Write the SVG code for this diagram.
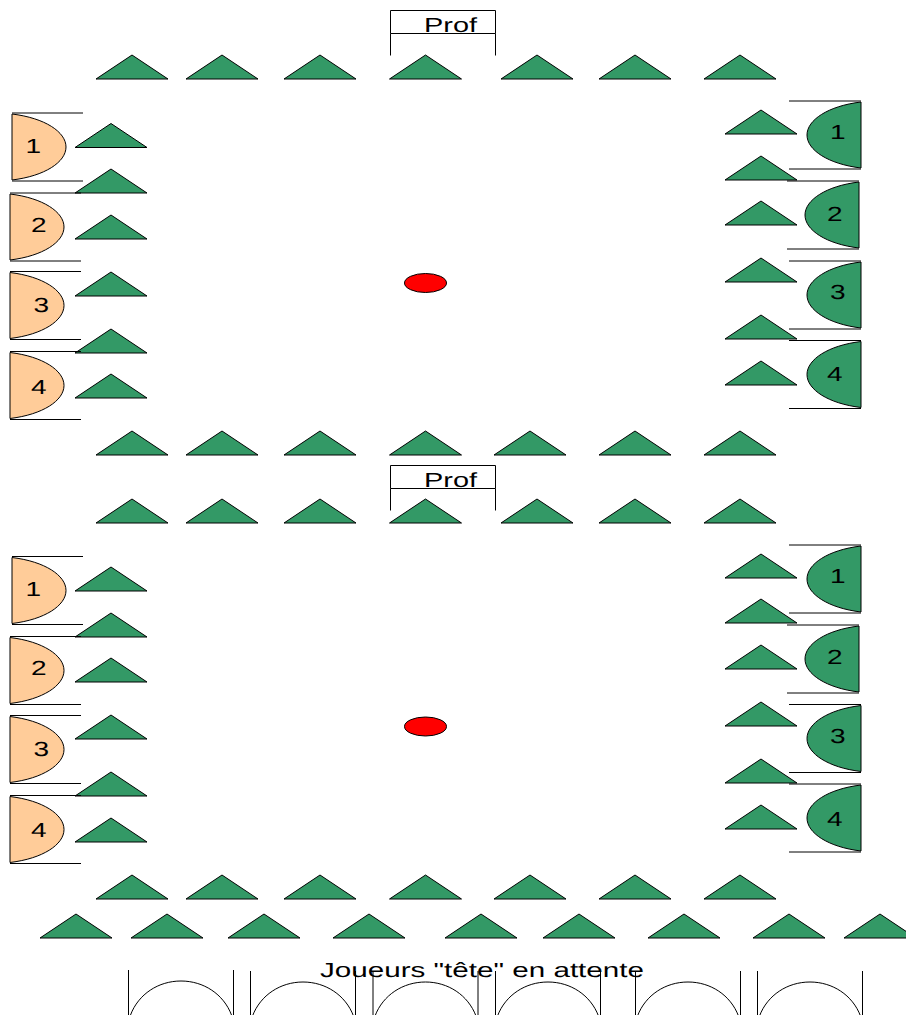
<svg xmlns="http://www.w3.org/2000/svg" width="906" height="1015" viewBox="0 0 906 1015">
<style>
.k{stroke:#000;stroke-width:1;fill:none}
.tri{fill:#339966;stroke:#000;stroke-width:1}
.or{fill:#FFCC99;stroke:#000;stroke-width:1}
.gr{fill:#339966;stroke:#000;stroke-width:1}
.red{fill:#FF0000;stroke:#000;stroke-width:1}
text{font-family:"Liberation Sans",Arial,sans-serif;font-size:20.500px;fill:#000;text-rendering:geometricPrecision}
</style>
<defs>
<polygon id="t" class="tri" points="-36,24 0,0 36,24"/>
<g id="dl"><path class="or" d="M0 1C33 5 54 19 54 34C54 49 33 63 0 67Z"/><path class="k" d="M0 0H71M0 68H71"/></g>
<g id="dr"><path class="gr" d="M0 1C-33 5 -54 19 -54 34C-54 49 -33 63 0 67Z"/><path class="k" d="M0 0H-72M0 68H-72"/></g>
<path id="a" class="k" d="M0 0V45M105 0V45M2 45C10 24 30 11 52.500 11C75 11 95 24 103 45"/>
<g id="p"><path class="k" d="M0 23V0H105V23M0 23H105M0 23V45M105 23V45"/></g>
</defs>
<g id="connectors"></g>

<g id="prof-1"><use href="#p" x="390.500" y="10.500"/><text x="424" y="32" textLength="53" lengthAdjust="spacingAndGlyphs">Prof</text></g>
<g id="top-row-1">
<use href="#t" x="132" y="55"/><use href="#t" x="222" y="55"/><use href="#t" x="320" y="55"/><use href="#t" x="425.500" y="55"/><use href="#t" x="537" y="55"/><use href="#t" x="635" y="55"/><use href="#t" x="740" y="55"/>
</g>
<g id="left-cones-1">
<use href="#t" x="111" y="123.500"/><use href="#t" x="111" y="169"/><use href="#t" x="111" y="215"/><use href="#t" x="111" y="272"/><use href="#t" x="111" y="329"/><use href="#t" x="111" y="374"/>
</g>
<g id="right-cones-1">
<use href="#t" x="761" y="110"/><use href="#t" x="761" y="156"/><use href="#t" x="761" y="201"/><use href="#t" x="761" y="258"/><use href="#t" x="761" y="315"/><use href="#t" x="761" y="361"/>
</g>
<g id="left-1-1"><use href="#dl" x="12" y="113"/><text x="25.500" y="152.700" textLength="15.600" lengthAdjust="spacingAndGlyphs">1</text></g>
<g id="left-2-1"><use href="#dl" x="10" y="193"/><text x="31" y="231.700" textLength="15.600" lengthAdjust="spacingAndGlyphs">2</text></g>
<g id="left-3-1"><use href="#dl" x="10" y="271.500"/><text x="33.500" y="312" textLength="15.600" lengthAdjust="spacingAndGlyphs">3</text></g>
<g id="left-4-1"><use href="#dl" x="10" y="351.500"/><text x="31" y="393.500" textLength="15.600" lengthAdjust="spacingAndGlyphs">4</text></g>
<g id="right-1-1"><use href="#dr" x="861" y="101"/><text x="830" y="139" textLength="15.600" lengthAdjust="spacingAndGlyphs">1</text></g>
<g id="right-2-1"><use href="#dr" x="859" y="181"/><text x="827" y="220.500" textLength="15.600" lengthAdjust="spacingAndGlyphs">2</text></g>
<g id="right-3-1"><use href="#dr" x="861" y="261"/><text x="830" y="299" textLength="15.600" lengthAdjust="spacingAndGlyphs">3</text></g>
<g id="right-4-1"><use href="#dr" x="861" y="340.500"/><text x="827" y="381" textLength="15.600" lengthAdjust="spacingAndGlyphs">4</text></g>
<g id="ball-1"><ellipse class="red" cx="425.500" cy="283" rx="21" ry="9.500"/></g>
<g id="bottom-row-1">
<use href="#t" x="132" y="431"/><use href="#t" x="222" y="431"/><use href="#t" x="320" y="431"/><use href="#t" x="425.500" y="431"/><use href="#t" x="530" y="431"/><use href="#t" x="635" y="431"/><use href="#t" x="740" y="431"/>
</g>

<g id="prof-2"><use href="#p" x="390.500" y="465.500"/><text x="424" y="487" textLength="53" lengthAdjust="spacingAndGlyphs">Prof</text></g>
<g id="top-row-2">
<use href="#t" x="132" y="499"/><use href="#t" x="222" y="499"/><use href="#t" x="320" y="499"/><use href="#t" x="425.500" y="499"/><use href="#t" x="537" y="499"/><use href="#t" x="635" y="499"/><use href="#t" x="740" y="499"/>
</g>
<g id="left-cones-2">
<use href="#t" x="111" y="567"/><use href="#t" x="111" y="613"/><use href="#t" x="111" y="658"/><use href="#t" x="111" y="715"/><use href="#t" x="111" y="772"/><use href="#t" x="111" y="818"/>
</g>
<g id="right-cones-2">
<use href="#t" x="761" y="554"/><use href="#t" x="761" y="599"/><use href="#t" x="761" y="645"/><use href="#t" x="761" y="702"/><use href="#t" x="761" y="759"/><use href="#t" x="761" y="805"/>
</g>
<g id="left-1-2"><use href="#dl" x="12" y="556.500"/><text x="25.500" y="596" textLength="15.600" lengthAdjust="spacingAndGlyphs">1</text></g>
<g id="left-2-2"><use href="#dl" x="10" y="636.500"/><text x="31" y="675" textLength="15.600" lengthAdjust="spacingAndGlyphs">2</text></g>
<g id="left-3-2"><use href="#dl" x="10" y="715.500"/><text x="33.500" y="755.500" textLength="15.600" lengthAdjust="spacingAndGlyphs">3</text></g>
<g id="left-4-2"><use href="#dl" x="10" y="795.500"/><text x="31" y="836.500" textLength="15.600" lengthAdjust="spacingAndGlyphs">4</text></g>
<g id="right-1-2"><use href="#dr" x="861" y="545"/><text x="830" y="582.500" textLength="15.600" lengthAdjust="spacingAndGlyphs">1</text></g>
<g id="right-2-2"><use href="#dr" x="859" y="625"/><text x="827" y="664" textLength="15.600" lengthAdjust="spacingAndGlyphs">2</text></g>
<g id="right-3-2"><use href="#dr" x="861" y="704.500"/><text x="830" y="743" textLength="15.600" lengthAdjust="spacingAndGlyphs">3</text></g>
<g id="right-4-2"><use href="#dr" x="861" y="784"/><text x="827" y="826" textLength="15.600" lengthAdjust="spacingAndGlyphs">4</text></g>
<g id="ball-2"><ellipse class="red" cx="425.500" cy="726.500" rx="21" ry="9.500"/></g>
<g id="bottom-row-2">
<use href="#t" x="132" y="875"/><use href="#t" x="222" y="875"/><use href="#t" x="320" y="875"/><use href="#t" x="425.500" y="875"/><use href="#t" x="530" y="875"/><use href="#t" x="635" y="875"/><use href="#t" x="740" y="875"/>
</g>
<g id="waiting-row">
<use href="#t" x="76" y="914"/><use href="#t" x="167" y="914"/><use href="#t" x="264" y="914"/><use href="#t" x="369" y="914"/><use href="#t" x="481" y="914"/><use href="#t" x="579" y="914"/><use href="#t" x="684" y="914"/><use href="#t" x="789" y="914"/><use href="#t" x="880" y="914"/>
</g>
<g id="waiting-label"><text x="320" y="977" textLength="324" lengthAdjust="spacingAndGlyphs">Joueurs "tête" en attente</text></g>
<g id="arch-1"><use href="#a" x="128.500" y="970"/></g>
<g id="arch-2"><use href="#a" x="250.500" y="971"/></g>
<g id="arch-3"><use href="#a" x="373" y="971"/></g>
<g id="arch-4"><use href="#a" x="495.500" y="971"/></g>
<g id="arch-5"><use href="#a" x="635.500" y="971"/></g>
<g id="arch-6"><use href="#a" x="757.500" y="971"/></g>
</svg>
